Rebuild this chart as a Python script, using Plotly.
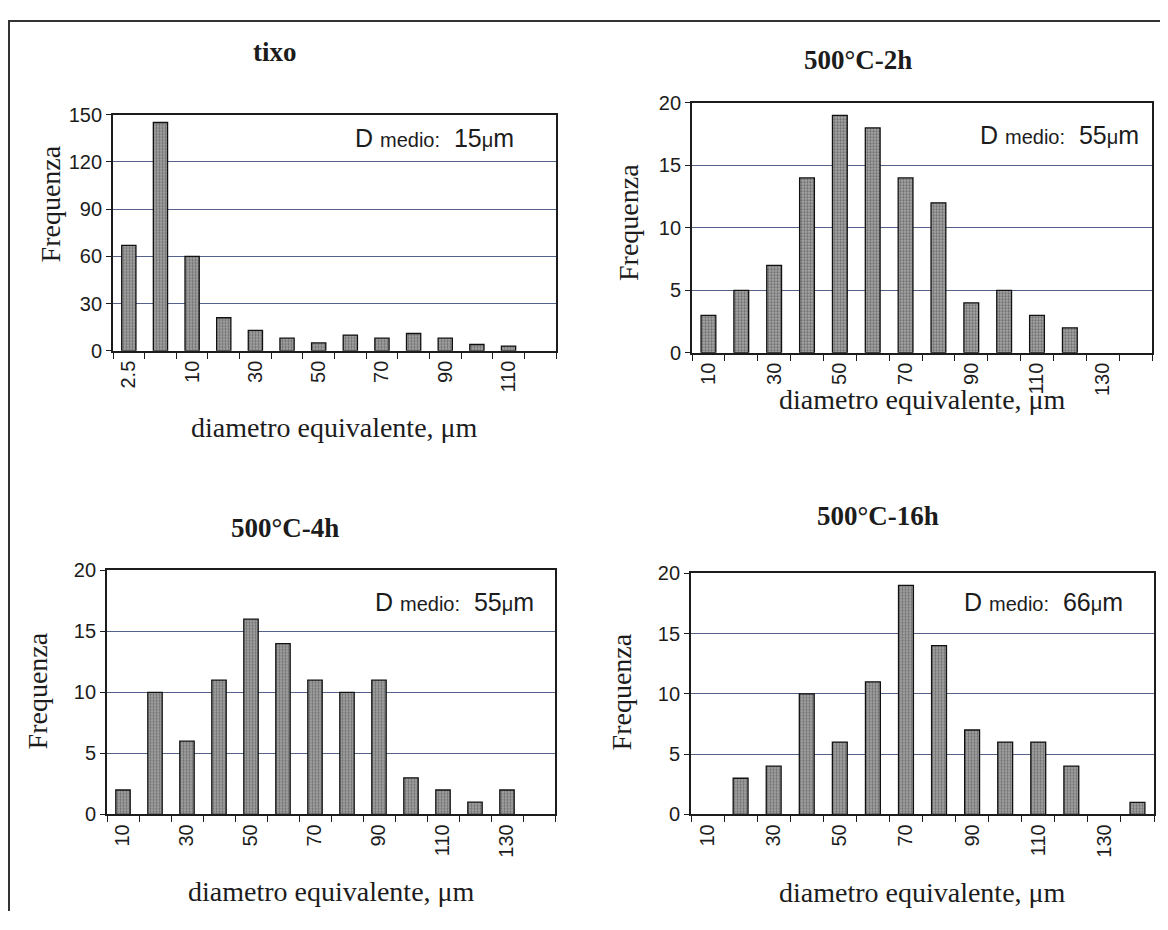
import plotly.graph_objects as go

# target page size and the default 8px body margin of the html page
PAGE_W, PAGE_H = 1168, 930
OFF = 8
W, H = PAGE_W - 2 * OFF, PAGE_H - 2 * OFF

# ---- data ----
cats_tixo = ["2.5", "5", "10", "20", "30", "40", "50", "60", "70", "80", "90", "100", "110", "120"]
vals_tixo = [67, 145, 60, 21, 13, 8, 5, 10, 8, 11, 8, 4, 3, 0]
labels_tixo = ["2.5", "", "10", "", "30", "", "50", "", "70", "", "90", "", "110", ""]

cats_std = ["10", "20", "30", "40", "50", "60", "70", "80", "90", "100", "110", "120", "130", "140"]
labels_std = ["10", "", "30", "", "50", "", "70", "", "90", "", "110", "", "130", ""]
vals_2h = [3, 5, 7, 14, 19, 18, 14, 12, 4, 5, 3, 2, 0, 0]
vals_4h = [2, 10, 6, 11, 16, 14, 11, 10, 11, 3, 2, 1, 2, 0]
vals_16h = [0, 3, 4, 10, 6, 11, 19, 14, 7, 6, 6, 4, 0, 1]

titles = ["tixo", "500°C-2h", "500°C-4h", "500°C-16h"]
d_medio = ["15", "55", "55", "66"]
y_max = [150, 20, 20, 20]
y_step = [30, 5, 5, 5]

# ---- layout geometry (page pixels) ----
plot_px = [  # x0, x1, y_top, y_bottom
    (113, 556, 106, 348),
    (692, 1152, 94, 350),
    (107, 555, 573, 823),
    (691, 1154, 576, 823),
]
title_px = [(275, 42), (858, 50), (285, 530), (878, 517)]
ytitle_px = [(50, 198), (629, 217), (37, 697), (621, 698)]
xtitle_py = [427, 398, 902, 903]
annot_px = [(516, 130), (1141, 127), (536, 605), (1125, 605)]

series = [
    (cats_tixo, vals_tixo, labels_tixo),
    (cats_std, vals_2h, labels_std),
    (cats_std, vals_4h, labels_std),
    (cats_std, vals_16h, labels_std),
]

SERIF = "Liberation Serif, Times New Roman, serif"
SANS = "Liberation Sans, Arial, sans-serif"
INK = "#1c1c1c"

fig = go.Figure()
layout = dict(
    width=W, height=H,
    margin=dict(l=0, r=0, t=0, b=0),
    paper_bgcolor="white", plot_bgcolor="white",
    showlegend=False,
    annotations=[], shapes=[],
)


def px(x):
    return (x - OFF) / W


def py(y):
    return 1 - (y - OFF) / H


for i, (cats, vals, labs) in enumerate(series):
    n = "" if i == 0 else str(i + 1)
    xa, ya = "x" + n, "y" + n
    fig.add_trace(go.Bar(
        x=cats, y=vals, xaxis=xa, yaxis=ya, width=0.45,
        marker=dict(
            color="#a2a2a2",
            line=dict(color="#111111", width=[1.3 if v > 0 else 0 for v in vals]),
            pattern=dict(shape=".", fgcolor="#3a3a3a", bgcolor="#a6a6a6", size=3, solidity=0.45),
        ),
        hoverinfo="x+y",
    ))
    x0, x1, yt, yb = plot_px[i]
    layout["xaxis" + n] = dict(
        domain=[px(x0), px(x1)], anchor=ya, type="category",
        categoryorder="array", categoryarray=cats,
        tickmode="array", tickvals=cats, ticktext=labs,
        tickson="boundaries", ticks="outside", ticklen=6, tickwidth=1, tickcolor=INK,
        tickangle=-90, tickfont=dict(family=SANS, size=20, color=INK),
        showline=True, linecolor=INK, linewidth=1.8, mirror=True,
        showgrid=False, fixedrange=True,
    )
    layout["yaxis" + n] = dict(
        domain=[py(yb), py(yt)], anchor=xa,
        range=[0, y_max[i]], dtick=y_step[i], tick0=0,
        ticks="outside", ticklen=5, tickwidth=1, tickcolor=INK,
        tickfont=dict(family=SANS, size=20, color=INK),
        showline=True, linecolor=INK, linewidth=1.8, mirror=True,
        showgrid=True, gridcolor="#56618a", gridwidth=1,
        zeroline=False, fixedrange=True,
    )
    tx, ty = title_px[i]
    layout["annotations"].append(dict(
        text="<b>%s</b>" % titles[i], x=px(tx), y=py(ty), xref="paper", yref="paper",
        xanchor="center", yanchor="middle", showarrow=False,
        font=dict(family=SERIF, size=27, color=INK),
    ))
    yx, yy = ytitle_px[i]
    layout["annotations"].append(dict(
        text="Frequenza", x=px(yx), y=py(yy), xref="paper", yref="paper",
        xanchor="center", yanchor="middle", showarrow=False, textangle=-90,
        font=dict(family=SERIF, size=28, color=INK),
    ))
    layout["annotations"].append(dict(
        text="diametro equivalente, μm", x=px((x0 + x1) / 2), y=py(xtitle_py[i]),
        xref="paper", yref="paper", xanchor="center", yanchor="middle", showarrow=False,
        font=dict(family=SERIF, size=28, color=INK),
    ))
    ax_, ay_ = annot_px[i]
    layout["annotations"].append(dict(
        text="D <span style='font-size:20px'>medio:</span>\u00a0\u00a0%s<span style='font-size:20px'>μ</span>m" % d_medio[i],
        x=px(ax_), y=py(ay_), xref="paper", yref="paper",
        xanchor="right", yanchor="middle", showarrow=False,
        font=dict(family=SANS, size=25, color=INK),
    ))

# page frame (top and left edges of the scanned page box)
layout["shapes"].append(dict(
    type="path", xref="paper", yref="paper",
    path="M %f,0 L %f,%f L 1,%f" % (px(9), px(9), py(10), py(10)),
    line=dict(color="#333333", width=2),
))

fig.update_layout(**layout)
fig.write_html("out.html")
